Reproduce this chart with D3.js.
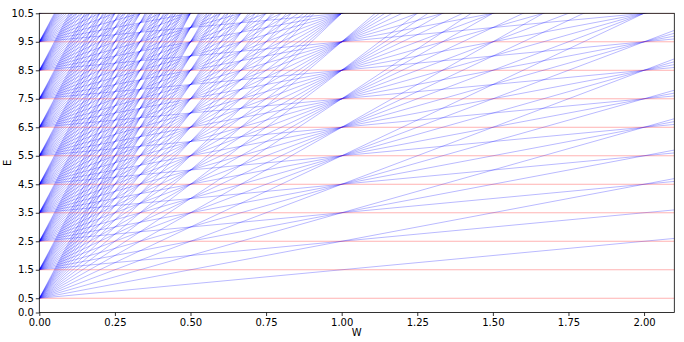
<!DOCTYPE html>
<html>
<head>
<meta charset="utf-8">
<script src="https://cdn.jsdelivr.net/npm/d3@7"></script>
<style>
  body { margin: 0; background: white; }
  text { font-family: "DejaVu Sans", sans-serif; }
</style>
</head>
<body>
<svg id="chart" width="684" height="342"></svg>
<script>
// levels at W = 0 (E = n + 1/2)
var levels = [0.5, 1.5, 2.5, 3.5, 4.5, 5.5, 6.5, 7.5, 8.5, 9.5, 10.5];
// slope of each line in the fan (quantum number m)
var slopes = [0, 1, 2, 3, 4, 5, 6, 7, 8, 9, 10, 11, 12, 13, 14, 15, 16, 17, 18, 19, 20];
var wDomain = [0, 2.1];
var eDomain = [0, 10.5];
var xTicks = [0, 0.25, 0.5, 0.75, 1.0, 1.25, 1.5, 1.75, 2.0];
var yTicks = [0.0, 0.5, 1.5, 2.5, 3.5, 4.5, 5.5, 6.5, 7.5, 8.5, 9.5, 10.5];

var margin = {top: 13.3, right: 9.7, bottom: 29.5, left: 39.3};
var width = 684 - margin.left - margin.right;
var height = 342 - margin.top - margin.bottom;

var svg = d3.select("#chart");
var g = svg.append("g")
  .attr("transform", "translate(" + margin.left + "," + margin.top + ")");

var x = d3.scaleLinear().domain(wDomain).range([0, width]);
var y = d3.scaleLinear().domain(eDomain).range([height, 0]);

g.append("clipPath").attr("id", "clip")
  .append("rect").attr("width", width).attr("height", height);

// every (level, slope) pair is one straight line E = level + slope * W
var lines = [];
levels.forEach(function(l){
  slopes.forEach(function(s){
    lines.push({level: l, slope: s});
  });
});

var line = d3.line()
  .x(function(p){ return x(p[0]); })
  .y(function(p){ return y(p[1]); });

var plot = g.append("g").attr("clip-path", "url(#clip)");

plot.selectAll(".fan")
  .data(lines.filter(function(d){ return d.slope > 0; }))
  .enter().append("path")
  .attr("class", "fan")
  .attr("fill", "none")
  .attr("stroke", "blue")
  .attr("stroke-opacity", 0.35)
  .attr("stroke-width", 0.8)
  .attr("d", function(d){
    return line(wDomain.map(function(w){ return [w, d.level + d.slope * w]; }));
  });

plot.selectAll(".flat")
  .data(lines.filter(function(d){ return d.slope === 0; }))
  .enter().append("path")
  .attr("class", "flat")
  .attr("fill", "none")
  .attr("stroke", "red")
  .attr("stroke-opacity", 0.3)
  .attr("stroke-width", 1)
  .attr("d", function(d){
    return line(wDomain.map(function(w){ return [w, d.level]; }));
  });

// axes
var xAxis = d3.axisBottom(x).tickValues(xTicks).tickFormat(d3.format(".2f")).tickSizeOuter(0).tickSize(3.5);
var yAxis = d3.axisLeft(y).tickValues(yTicks).tickFormat(d3.format(".1f")).tickSizeOuter(0).tickSize(3.5);

var gx = g.append("g").attr("transform", "translate(0," + height + ")").call(xAxis);
var gy = g.append("g").call(yAxis);
[gx, gy].forEach(function(a){
  a.selectAll("text").attr("font-size", 10).attr("fill", "#000").attr("font-family", "DejaVu Sans");
  a.selectAll("line").attr("stroke", "#000").attr("stroke-width", 0.8);
  a.select(".domain").remove();
});
gy.selectAll("text").attr("x", -5.5);
gx.selectAll("text").attr("y", 6);

// frame
g.append("rect")
  .attr("width", width).attr("height", height)
  .attr("fill", "none").attr("stroke", "#000").attr("stroke-width", 0.8);

g.append("text")
  .attr("x", width / 2).attr("y", height + 24)
  .attr("text-anchor", "middle").attr("font-size", 10)
  .text("W");

g.append("text")
  .attr("transform", "translate(" + (-28.8) + "," + (height / 2) + ") rotate(-90)")
  .attr("text-anchor", "middle").attr("font-size", 10)
  .text("E");
</script>
</body>
</html>
